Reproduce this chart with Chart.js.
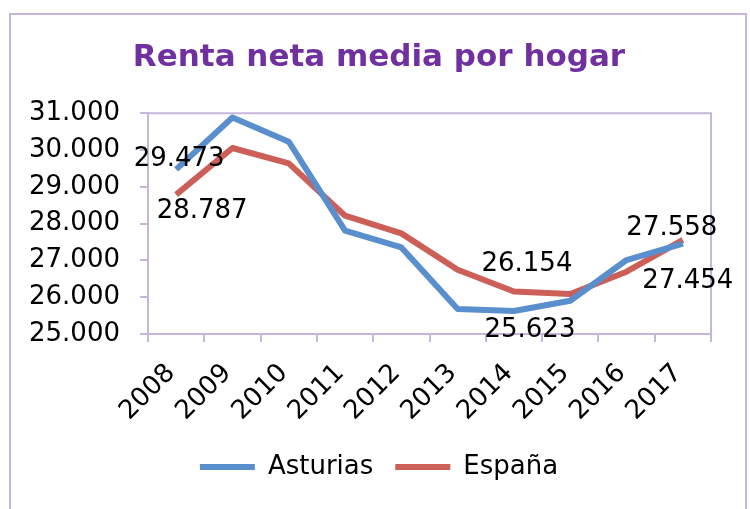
<!DOCTYPE html>
<html>
<head>
<meta charset="utf-8">
<script src="https://cdn.jsdelivr.net/npm/chart.js@4/dist/chart.umd.min.js"></script>
<style>
  html, body { margin: 0; padding: 0; background: #fff; }
  #wrap { position: relative; width: 750px; height: 509px; }
</style>
</head>
<body>
<div id="wrap"><canvas id="chart" width="750" height="509"></canvas></div>
<script>
const years = ["2008", "2009", "2010", "2011", "2012", "2013", "2014", "2015", "2016", "2017"];
const asturias = [29473, 30885, 30226, 27807, 27353, 25680, 25623, 25905, 27010, 27454];
const espana = [28787, 30054, 29636, 28215, 27734, 26747, 26154, 26087, 26693, 27558];
const yTicks = [25000, 26000, 27000, 28000, 29000, 30000, 31000];

// which points carry a value label, and where it sits relative to the point
const labelPlacement = [
  { 0: [3, -10], 6: [16, 19], 9: [5, 38] },      // Asturias
  { 0: [26, 17], 6: [13, -27], 9: [-11, -12] }   // España
];

const lavender = "#c6b6dc";
const font = "'DejaVu Sans', Verdana, sans-serif";

function fmt(v) {
  return String(v).replace(/\B(?=(\d{3})+(?!\d))/g, ".");
}

const framePlugin = {
  id: "frame",
  beforeDraw(chart) {
    const ctx = chart.ctx;
    ctx.save();
    ctx.fillStyle = "#fff";
    ctx.fillRect(0, 0, chart.width, chart.height);
    ctx.strokeStyle = lavender;
    ctx.lineWidth = 2;
    ctx.beginPath();
    ctx.moveTo(10, 520);
    ctx.lineTo(10, 14);
    ctx.lineTo(746, 14);
    ctx.lineTo(746, 520);
    ctx.stroke();
    // plot area top and right border
    const a = chart.chartArea;
    ctx.beginPath();
    ctx.moveTo(a.left, a.top);
    ctx.lineTo(a.right, a.top);
    ctx.lineTo(a.right, a.bottom);
    ctx.stroke();
    ctx.restore();
  }
};

const valueLabels = {
  id: "valueLabels",
  afterDatasetsDraw(chart) {
    const ctx = chart.ctx;
    ctx.save();
    ctx.font = "26px " + font;
    ctx.fillStyle = "#000";
    ctx.textAlign = "center";
    ctx.textBaseline = "middle";
    chart.data.datasets.forEach((ds, di) => {
      const meta = chart.getDatasetMeta(di);
      Object.entries(labelPlacement[di]).forEach(([idx, off]) => {
        const pt = meta.data[idx];
        ctx.fillText(fmt(ds.data[idx]), pt.x + off[0], pt.y + off[1]);
      });
    });
    ctx.restore();
  }
};

new Chart(document.getElementById("chart"), {
  type: "line",
  data: {
    labels: years,
    datasets: [
      {
        label: "Asturias",
        data: asturias,
        borderColor: "#5a8fcd",
        backgroundColor: "#5a8fcd",
        borderWidth: 6,
        pointRadius: 0,
        tension: 0,
        borderJoinStyle: "round"
      },
      {
        label: "España",
        data: espana,
        borderColor: "#cc5f58",
        backgroundColor: "#cc5f58",
        borderWidth: 6,
        pointRadius: 0,
        tension: 0,
        borderJoinStyle: "round"
      }
    ]
  },
  options: {
    responsive: false,
    animation: false,
    layout: { padding: { top: 0, right: 0, bottom: 19, left: 8 } },
    plugins: {
      title: {
        display: true,
        text: "Renta neta media por hogar",
        color: "#7030a0",
        font: { family: font, size: 31, weight: "bold", lineHeight: 1.2 },
        padding: { top: 39, bottom: 37 }
      },
      legend: {
        position: "bottom",
        labels: {
          color: "#000",
          font: { family: font, size: 26 },
          boxWidth: 55,
          boxHeight: 6,
          padding: 22,
          generateLabels(chart) {
            return chart.data.datasets.map((ds, i) => ({
              text: ds.label,
              fillStyle: ds.borderColor,
              strokeStyle: ds.borderColor,
              lineWidth: 0,
              datasetIndex: i
            }));
          }
        }
      },
      tooltip: { enabled: false }
    },
    scales: {
      x: {
        offset: true,
        grid: { offset: true, drawOnChartArea: false, color: lavender, lineWidth: 2, tickLength: 8 },
        border: { color: lavender, width: 2 },
        ticks: {
          color: "#000",
          font: { family: font, size: 26 },
          minRotation: 45,
          maxRotation: 45,
          padding: 16,
          labelOffset: -5
        },
        afterFit(scale) { scale.height = 98; }
      },
      y: {
        min: 25000,
        max: 31000,
        afterBuildTicks(scale) { scale.ticks = yTicks.map(v => ({ value: v })); },
        grid: { drawOnChartArea: false, color: lavender, lineWidth: 2, tickLength: 8 },
        border: { color: lavender, width: 2 },
        ticks: {
          color: "#000",
          font: { family: font, size: 26 },
          padding: 20,
          callback: v => fmt(v)
        },
        afterFit(scale) { scale.width = 140; }
      },
      // empty right-hand strip so the plot ends where the reference does
      yRight: {
        position: "right",
        min: 25000,
        max: 31000,
        grid: { display: false },
        border: { display: false },
        ticks: { display: false },
        afterFit(scale) { scale.width = 39; }
      }
    }
  },
  plugins: [framePlugin, valueLabels]
});
</script>
</body>
</html>
